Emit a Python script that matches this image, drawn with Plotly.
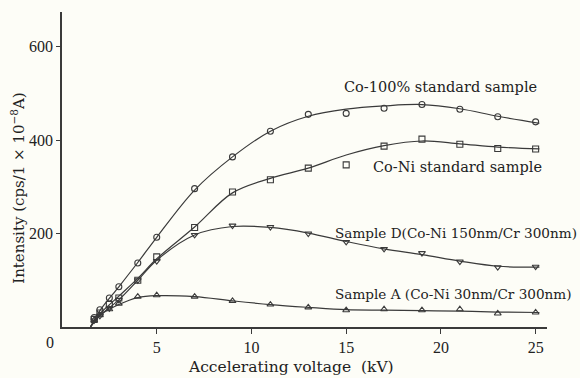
import plotly.graph_objects as go

# Accelerating voltage (kV) at measured points
kv_pts = [1.7, 2, 2.5, 3, 4, 5, 7, 9, 11, 13, 15, 17, 19, 21, 23, 25]
# Voltages for the fitted curves
kv_fit = [1.5, 2, 3, 4, 5, 7, 9, 11, 13, 15, 17, 19, 21, 23, 25.2]

# Measured intensities (cps / 1e-8 A)
co100_pts = [20, 37, 62, 86, 137, 192, 296, 364, 419, 455, 457, 468, 476, 466, 450, 439]
coni_pts = [16, 30, 48, 62, 100, 150, 213, 289, 315, 340, 347, 387, 402, 391, 382, 381]
sampD_pts = [14, 24, 40, 58, 100, 141, 197, 217, 214, 200, 182, 167, 158, 140, 128, 129]
sampA_pts = [15, 25, 38, 50, 65, 68, 65, 56, 48, 42, 36, 38, 36, 38, 29, 31]

# Smoothed fitted curves
co100_fit = [0, 35, 86, 138, 192, 293, 364, 419, 451, 466, 473, 476, 467, 451, 436]
coni_fit = [0, 28, 66, 104, 146, 214, 287, 318, 340, 368, 388, 398, 392, 385, 381]
sampD_fit = [0, 24, 58, 100, 143, 197, 215, 213, 201, 183, 167, 155, 141, 130, 128]
sampA_fit = [0, 25, 48, 63, 67, 65, 56, 48, 42, 37, 36, 35, 34, 32, 31]

x_ticks = [5, 10, 15, 20, 25]
y_ticks = [200, 400, 600]

labels = [
    ("Co-100% standard sample", 14.8, 513, 14.5),
    ("Co-Ni standard sample", 16.3, 342, 14.5),
    ("Sample D(Co-Ni 150nm/Cr 300nm)", 14.3, 202, 13.6),
    ("Sample A (Co-Ni 30nm/Cr 300nm)", 14.3, 70, 13.6),
]

INK = "#3a3a3a"
FONT = "Liberation Serif, DejaVu Serif, serif"
WIDE = "DejaVu Serif, serif"

fig = go.Figure()

series = [
    (co100_fit, co100_pts, "circle-open"),
    (coni_fit, coni_pts, "square-open"),
    (sampD_fit, sampD_pts, "triangle-down-open"),
    (sampA_fit, sampA_pts, "triangle-up-open"),
]
for fit, pts, sym in series:
    fig.add_trace(go.Scatter(
        x=kv_fit, y=fit, mode="lines", line=dict(color=INK, width=1.2, shape="spline", smoothing=1.0),
        hoverinfo="skip", showlegend=False))
    fig.add_trace(go.Scatter(
        x=kv_pts, y=pts, mode="markers",
        marker=dict(symbol=sym, size=6, color=INK, line=dict(width=1.1, color=INK)),
        showlegend=False))

for text, x, y, size in labels:
    fig.add_annotation(x=x, y=y, text=text, showarrow=False, xanchor="left", yanchor="middle",
                       font=dict(family=WIDE, size=size, color="#222"))

# origin label
fig.add_annotation(x=0, y=0, text="0", showarrow=False, xanchor="right", yanchor="top",
                   xshift=-6, yshift=-5, font=dict(family=FONT, size=16, color="#222"))

# axis titles
fig.add_annotation(xref="paper", yref="paper", x=0.472, y=-0.127, text="Accelerating voltage  (kV)",
                   showarrow=False, xanchor="center", yanchor="middle",
                   font=dict(family=WIDE, size=15.5, color="#222"))
fig.add_annotation(xref="paper", yref="paper", x=-0.09, y=0.44,
                   text="Intensity (cps/1 × 10<sup>−8</sup>A)", textangle=-90,
                   showarrow=False, xanchor="center", yanchor="middle",
                   font=dict(family=WIDE, size=15, color="#222"))

fig.update_layout(
    width=580, height=378,
    margin=dict(l=62, r=33, t=12, b=51),
    paper_bgcolor="#fdfdf7", plot_bgcolor="#fdfdf7",
    font=dict(family=FONT, color="#222"),
    xaxis=dict(range=[0, 25.6], tickvals=x_ticks, ticks="outside", ticklen=5, tickcolor=INK,
               showline=True, linecolor=INK, linewidth=1.5, showgrid=False, zeroline=False,
               tickfont=dict(size=16)),
    yaxis=dict(range=[0, 674], tickvals=y_ticks, ticks="outside", ticklen=4, tickcolor=INK,
               showline=True, linecolor=INK, linewidth=1.5, showgrid=False, zeroline=False,
               tickfont=dict(size=16)),
)

fig.write_html("out.html")
